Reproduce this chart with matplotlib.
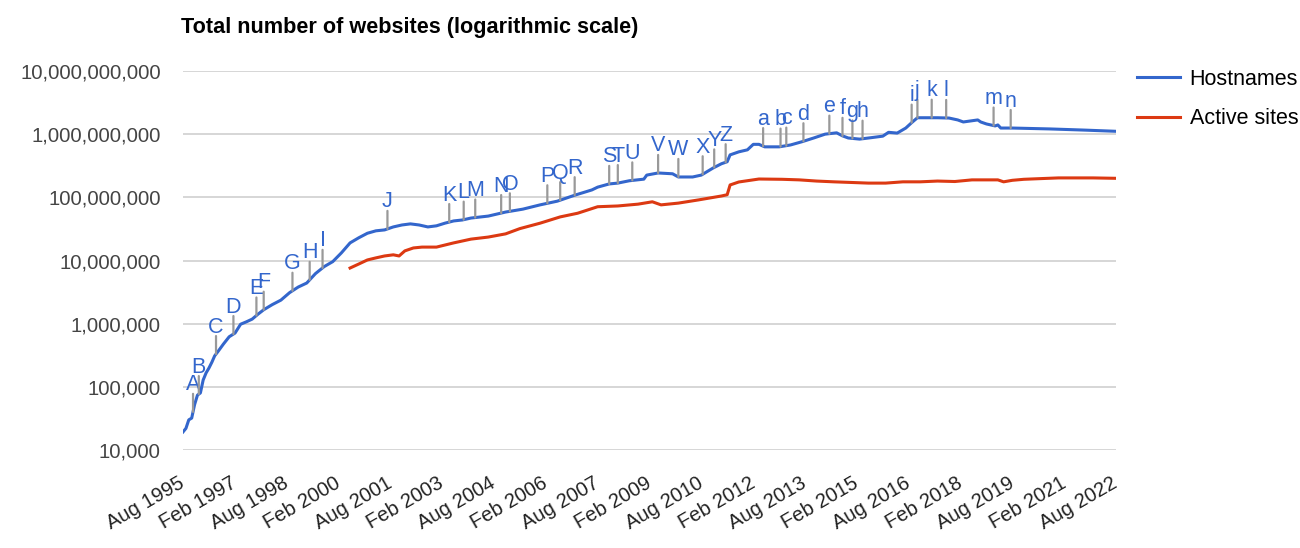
import numpy as np
import pandas as pd
import matplotlib
matplotlib.use('Agg')
import matplotlib.pyplot as plt
import matplotlib.dates as mdates

plt.rcParams['font.family'] = ['Liberation Sans', 'DejaVu Sans']

# values
host_dates = ['1995-08', '1995-09', '1995-10', '1995-11', '1995-12', '1996-01', '1996-02', '1996-03',
              '1996-04', '1996-05', '1996-06', '1996-07', '1996-08', '1996-10', '1996-12', '1997-02',
              '1997-04', '1997-06', '1997-08', '1997-10', '1997-12', '1998-03', '1998-06', '1998-09',
              '1998-12', '1999-03', '1999-06', '1999-09', '1999-12', '2000-03', '2000-06', '2000-09',
              '2000-12', '2001-03', '2001-06', '2001-09', '2001-12', '2002-03', '2002-06', '2002-09',
              '2002-12', '2003-03', '2003-06', '2003-09', '2003-12', '2004-06', '2004-12', '2005-06',
              '2005-12', '2006-06', '2006-12', '2007-06', '2007-08', '2007-12', '2008-03', '2008-07',
              '2008-12', '2009-01', '2009-05', '2009-10', '2009-12', '2010-05', '2010-08', '2010-12',
              '2011-03', '2011-05', '2011-06', '2011-09', '2011-12', '2012-02', '2012-04', '2012-06',
              '2012-11', '2013-03', '2013-07', '2013-11', '2014-03', '2014-07', '2014-09', '2014-11',
              '2015-03', '2015-07', '2015-11', '2016-01', '2016-04', '2016-07', '2016-09', '2016-11',
              '2017-06', '2017-10', '2018-01', '2018-03', '2018-08', '2018-09', '2018-11', '2019-02',
              '2019-03', '2019-04', '2019-08', '2020-09', '2021-09', '2022-08']
host_values = [19300, 22000, 30000, 32000, 52000, 74000, 80000, 128000,
               166000, 198000, 245000, 310000, 356000, 475000, 620000, 710000,
               980000, 1070000, 1180000, 1410000, 1660000, 2000000, 2360000, 3100000,
               3800000, 4400000, 6200000, 8000000, 9600000, 13200000, 19000000, 22900000,
               27000000, 29500000, 30500000, 34000000, 36500000, 38000000, 36500000, 34000000,
               35400000, 39000000, 42300000, 43800000, 47000000, 50500000, 58500000, 65000000,
               76000000, 87000000, 108000000, 131000000, 145000000, 163000000, 168000000, 183000000,
               194000000, 225000000, 243000000, 236000000, 210000000, 210000000, 225000000, 290000000,
               340000000, 366000000, 470000000, 525000000, 565000000, 690000000, 690000000, 630000000,
               630000000, 675000000, 760000000, 870000000, 1000000000, 1050000000, 940000000, 870000000,
               835000000, 880000000, 930000000, 1070000000, 1040000000, 1250000000, 1520000000, 1820000000,
               1820000000, 1800000000, 1680000000, 1560000000, 1680000000, 1560000000, 1450000000, 1350000000,
               1400000000, 1250000000, 1250000000, 1210000000, 1160000000, 1110000000]

active_dates = ['2000-06', '2000-09', '2000-12', '2001-03', '2001-06', '2001-09', '2001-11', '2002-01',
                '2002-04', '2002-07', '2002-12', '2003-06', '2003-12', '2004-06', '2004-12', '2005-05',
                '2005-12', '2006-07', '2007-01', '2007-08', '2008-03', '2008-10', '2009-03', '2009-06',
                '2009-12', '2010-07', '2011-03', '2011-05', '2011-06', '2011-09', '2012-04', '2012-12',
                '2013-06', '2013-12', '2014-06', '2014-12', '2015-06', '2015-12', '2016-06', '2016-12',
                '2017-06', '2017-12', '2018-06', '2018-12', '2019-03', '2019-05', '2019-08', '2019-12',
                '2020-06', '2020-12', '2021-12', '2022-08']
active_values = [7600000, 8800000, 10200000, 11000000, 11800000, 12300000, 11800000, 14200000,
                 15800000, 16300000, 16300000, 19000000, 21800000, 23500000, 26400000, 32000000,
                 39000000, 49000000, 56000000, 71000000, 73000000, 78000000, 85000000, 76000000,
                 81000000, 91000000, 105000000, 110000000, 157000000, 175000000, 195000000, 193000000,
                 189000000, 181000000, 176000000, 172000000, 168000000, 168000000, 176000000, 176000000,
                 181000000, 178000000, 189000000, 189000000, 189000000, 176000000, 186000000, 193000000,
                 198000000, 203000000, 203000000, 200000000]

note_labels = list('ABCDEFGHIJKLMNOPQRSTUVWXYZabcdefghijklmn')
note_dates = ['1995-11-15', '1996-01-15', '1996-07-15', '1997-01-15', '1997-09-15', '1997-12-01',
              '1998-10-01', '1999-04-01', '1999-08-15', '2001-07-01', '2003-04-15', '2003-09-15',
              '2004-01-15', '2004-10-15', '2005-01-15', '2006-02-15', '2006-07-01', '2006-12-01',
              '2007-12-01', '2008-03-01', '2008-08-01', '2009-05-01', '2009-12-01', '2010-08-15',
              '2010-12-15', '2011-04-15', '2012-05-15', '2012-11-15', '2013-01-15', '2013-07-15',
              '2014-04-15', '2014-09-01', '2014-12-15', '2015-04-01', '2016-09-01', '2016-11-01',
              '2017-04-01', '2017-09-01', '2019-01-15', '2019-07-15']

ytick_values = [1e4, 1e5, 1e6, 1e7, 1e8, 1e9, 1e10]

hd = pd.to_datetime(host_dates)
ad = pd.to_datetime(active_dates)
nd = pd.to_datetime(note_dates)

fig = plt.figure(figsize=(13, 5.48), dpi=100)
ax = fig.add_axes([183/1300, 1 - 450/548, (1116 - 183)/1300, (450 - 71)/548])

ax.plot(hd, host_values, color='#3366cc', lw=2.2, label='Hostnames', zorder=3)
ax.plot(ad, active_values, color='#dc3912', lw=2.2, label='Active sites', zorder=3)

ax.set_yscale('log')
ax.set_ylim(1e4, 1e10)
ax.set_yticks(ytick_values)
ax.set_yticklabels(['{:,}'.format(int(v)) for v in ytick_values])
ax.minorticks_off()
ax.grid(axis='y', color='#cccccc', lw=1.1, zorder=0)

ax.set_xlim(pd.Timestamp('1995-08-01'), pd.Timestamp('2022-08-01'))
xt = pd.date_range('1995-08-01', '2022-08-01', freq='18MS')
ax.set_xticks(xt)
ax.set_xticklabels([d.strftime('%b %Y') for d in xt], rotation=30, ha='right',
                   rotation_mode='anchor', va='center')
ax.tick_params(axis='x', length=0, pad=23, labelsize=14.5, labelcolor='#222222')
ax.tick_params(axis='y', length=0, pad=16, labelsize=14.6, labelcolor='#444444')
for s in ax.spines.values():
    s.set_visible(False)

# letter markers on the hostnames line
hx = mdates.date2num(hd)
hlog = np.log10(host_values)
for lbl, d in zip(note_labels, nd):
    yv = 10 ** np.interp(mdates.date2num(d), hx, hlog)
    ax.annotate('', xy=(d, yv), xytext=(0, 13), textcoords='offset points',
                arrowprops=dict(arrowstyle='-', color='#999999', lw=1.6, shrinkA=0, shrinkB=0))
    ax.annotate(lbl, xy=(d, yv), xytext=(0, 15.5), textcoords='offset points',
                ha='center', va='baseline', color='#3366cc', fontsize=15.5)

fig.text(181/1300, 1 - 27/548, 'Total number of websites (logarithmic scale)',
         fontsize=15.6, fontweight='bold', va='center', ha='left')

ax.legend(loc='upper left', bbox_to_anchor=(1137/1300, 1 - 69/548), bbox_transform=fig.transFigure,
          frameon=False, fontsize=15.5, handlelength=2.0, handletextpad=0.45, labelspacing=0.85,
          borderpad=0, borderaxespad=0)

plt.savefig('out.png', dpi=100)
